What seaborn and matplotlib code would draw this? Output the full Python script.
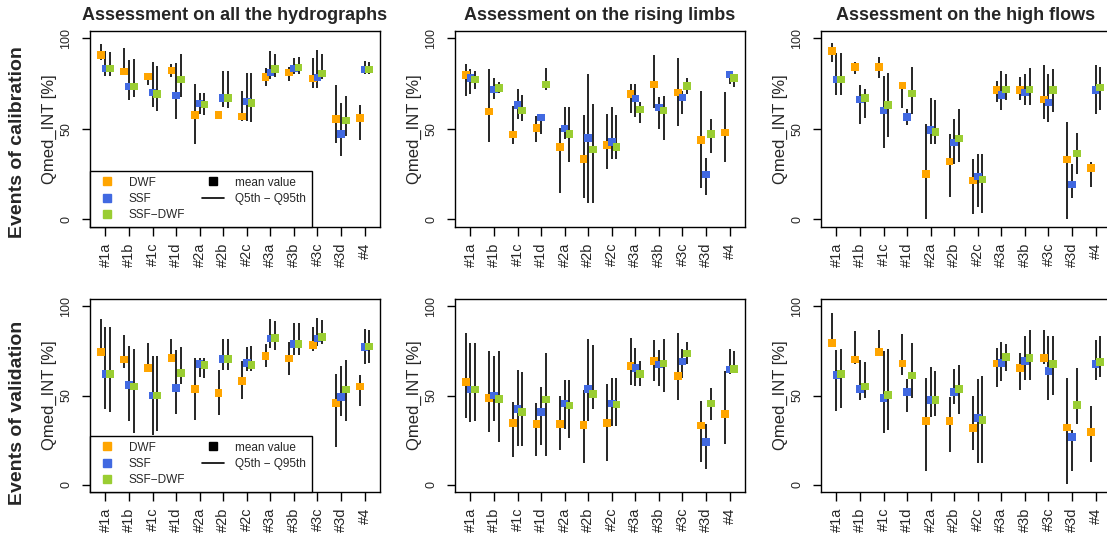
import matplotlib
matplotlib.use("Agg")
import matplotlib.pyplot as plt
from matplotlib.lines import Line2D
import seaborn as sns
import pandas as pd

# ------------------------------------------------------------------ #
# Data: (mean, Q5th, Q95th) for every event set  #
# ------------------------------------------------------------------ #
events = ["#1a", "#1b", "#1c", "#1d", "#2a", "#2b", "#2c", "#3a", "#3b", "#3c", "#3d", "#4"]
series = ["DWF", "SSF", "SSF\u2212DWF"]
colors = ["#FFA500", "#4169E1", "#9ACD32"]          # orange, royalblue, yellowgreen

titles = ["Assessment on all the hydrographs",
          "Assessment on the rising limbs",
          "Assessment on the high flows"]
row_labels = ["Events of calibration", "Events of validation"]

# calibration - all hydrographs
cal_all_dwf = [(90.6, 88.0, 96.7), (81.6, 80.0, 94.5), (78.8, 74.2, 80.0), (82.1, 78.6, 86.0),
               (57.5, 41.8, 74.6), (57.8, 56.5, 59.0), (56.9, 54.3, 71.0), (78.6, 73.7, 83.4),
               (81.0, 76.4, 84.3), (77.7, 72.7, 89.3), (55.6, 42.4, 74.2), (56.0, 43.8, 63.0)]
cal_all_ssf = [(83.4, 79.2, 93.0), (73.3, 65.7, 87.8), (70.0, 62.0, 86.9), (68.3, 55.6, 86.6),
               (63.9, 58.0, 70.0), (66.9, 62.0, 82.0), (65.2, 54.3, 81.0), (81.2, 77.3, 93.0),
               (83.4, 80.0, 89.3), (78.3, 72.7, 93.4), (47.0, 35.0, 64.5), (82.7, 80.0, 87.5)]
cal_all_sdwf = [(83.4, 79.2, 92.3), (73.3, 67.6, 88.8), (69.4, 59.9, 84.7), (77.2, 67.6, 91.2),
                (63.4, 57.6, 69.6), (66.9, 61.7, 82.0), (64.1, 54.0, 81.0), (83.0, 78.6, 91.5),
                (83.8, 80.0, 89.7), (80.5, 77.3, 91.5), (54.5, 46.0, 68.0), (82.7, 80.0, 87.1)]

# calibration - rising limbs
cal_rise_dwf = [(79.6, 68.0, 86.0), (59.5, 42.9, 82.9), (46.8, 41.8, 62.6), (50.6, 42.9, 57.0),
                (40.1, 14.7, 50.6), (33.5, 11.6, 57.6), (41.0, 27.6, 58.4), (69.4, 58.9, 74.6),
                (74.4, 61.7, 90.8), (70.0, 51.6, 89.0), (44.0, 17.1, 70.9), (47.9, 31.9, 70.3)]
cal_rise_ssf = [(77.9, 69.4, 83.2), (71.8, 66.7, 78.3), (63.0, 55.6, 72.2), (56.2, 47.0, 58.0),
                (50.3, 44.2, 62.0), (45.1, 9.2, 80.5), (42.9, 33.1, 62.0), (66.7, 56.5, 75.0),
                (61.7, 49.7, 67.6), (67.2, 58.0, 70.9), (24.7, 13.4, 33.7), (79.9, 74.6, 80.5)]
cal_rise_sdwf = [(77.3, 71.8, 82.0), (72.4, 70.0, 76.0), (60.2, 54.3, 68.5), (74.4, 71.6, 83.4),
                 (47.0, 31.9, 62.0), (38.5, 9.2, 63.9), (40.1, 33.1, 57.6), (60.6, 53.0, 65.0),
                 (60.2, 43.8, 68.1), (73.8, 69.4, 78.3), (47.0, 36.5, 55.6), (77.9, 73.3, 80.0)]

# calibration - high flows
cal_high_dwf = [(92.8, 87.1, 97.6), (84.3, 80.1, 87.1), (84.3, 77.9, 89.9), (74.0, 61.7, 76.0),
                (25.2, 0.0, 52.9), (31.9, 12.5, 47.3), (21.5, 2.8, 33.1), (71.6, 65.0, 76.4),
                (71.3, 66.1, 78.6), (66.1, 55.2, 85.3), (33.0, 0.0, 53.8), (28.5, 18.0, 31.9)]
cal_high_ssf = [(77.3, 68.7, 92.0), (66.1, 52.5, 74.0), (60.2, 39.6, 79.2), (56.7, 51.9, 60.8),
                (49.2, 41.4, 67.2), (42.4, 30.4, 55.2), (23.8, 7.0, 35.9), (68.7, 60.2, 82.0),
                (70.0, 63.2, 80.5), (64.6, 54.0, 80.1), (19.3, 12.0, 30.8), (71.6, 58.4, 85.3)]
cal_high_sdwf = [(77.3, 68.7, 92.0), (66.9, 56.2, 71.8), (63.0, 45.7, 81.0), (69.6, 58.4, 84.2),
                 (48.4, 41.4, 65.7), (44.6, 31.9, 60.8), (22.1, 3.3, 35.9), (71.8, 65.7, 80.5),
                 (71.8, 63.0, 83.8), (71.3, 59.5, 83.2), (36.5, 24.9, 47.9), (72.9, 60.2, 84.2)]

# validation - all hydrographs
val_all_dwf = [(74.4, 72.0, 92.9), (70.1, 65.4, 84.1), (65.6, 63.0, 79.4), (71.0, 68.6, 81.7),
               (53.6, 36.0, 71.0), (51.4, 39.3, 64.1), (58.3, 48.0, 69.2), (72.3, 66.0, 79.0),
               (70.7, 61.7, 79.8), (78.5, 75.1, 88.2), (45.8, 21.1, 62.1), (55.1, 43.9, 61.7)]
val_all_ssf = [(62.1, 42.4, 88.2), (55.9, 35.5, 77.6), (49.9, 28.0, 72.0), (54.2, 39.8, 75.7),
               (67.7, 60.4, 71.0), (70.5, 64.1, 81.7), (68.2, 63.6, 77.2), (81.9, 76.6, 92.9),
               (79.0, 72.5, 90.7), (81.9, 77.9, 93.5), (49.2, 38.7, 66.4), (77.2, 67.9, 87.3)]
val_all_sdwf = [(62.1, 40.6, 88.2), (55.0, 29.0, 76.0), (50.1, 29.9, 72.3), (62.6, 56.4, 77.2),
                (67.1, 59.8, 71.0), (70.5, 64.1, 81.7), (67.1, 63.9, 77.9), (82.2, 75.7, 92.0),
                (79.0, 72.5, 90.7), (82.8, 79.0, 92.5), (53.3, 35.5, 69.7), (77.6, 68.2, 86.9)]

# validation - rising limbs
val_rise_dwf = [(57.6, 37.4, 85.0), (48.6, 29.3, 74.8), (34.6, 15.5, 46.2), (34.0, 15.9, 45.8),
                (34.0, 19.6, 49.9), (33.5, 12.1, 52.9), (34.6, 13.1, 56.6), (66.7, 56.0, 82.2),
                (69.3, 57.9, 80.9), (61.1, 47.7, 85.0), (33.1, 12.5, 47.1), (39.6, 23.0, 63.9)]
val_rise_ssf = [(53.3, 35.0, 79.4), (49.9, 35.5, 72.0), (42.4, 21.9, 64.1), (40.7, 22.4, 54.8),
                (45.4, 31.2, 58.5), (53.8, 35.5, 81.7), (45.4, 32.7, 59.8), (65.6, 55.5, 76.6),
                (67.3, 55.1, 75.7), (69.0, 59.8, 76.0), (23.9, 8.8, 34.2), (64.5, 62.2, 76.0)]
val_rise_sdwf = [(53.3, 35.5, 79.4), (48.0, 23.7, 74.8), (40.7, 21.9, 63.0), (47.7, 15.9, 73.8),
                 (44.3, 26.2, 58.5), (50.8, 42.4, 78.5), (44.9, 33.1, 59.8), (62.1, 55.1, 69.5),
                 (67.9, 51.8, 81.7), (73.5, 67.9, 79.8), (45.4, 36.4, 54.2), (64.9, 62.6, 74.8)]

# validation - high flows
val_high_dwf = [(79.4, 77.6, 96.3), (70.1, 67.9, 86.4), (74.4, 72.0, 86.9), (67.9, 61.7, 84.7),
                (35.7, 7.5, 59.8), (35.7, 18.3, 49.2), (31.8, 19.6, 49.9), (67.9, 54.8, 76.6),
                (65.4, 53.3, 73.8), (71.0, 67.9, 86.9), (32.1, 0.6, 59.8), (29.5, 12.5, 43.9)]
val_high_ssf = [(61.5, 41.1, 75.3), (53.6, 47.7, 70.1), (48.6, 29.0, 74.8), (52.0, 40.6, 59.3),
                (47.5, 37.9, 66.0), (52.0, 45.4, 65.0), (37.2, 12.1, 59.3), (68.2, 57.9, 79.8),
                (69.5, 58.5, 83.6), (63.6, 47.7, 83.2), (26.7, 7.5, 30.8), (67.7, 58.5, 80.9)]
val_high_sdwf = [(62.1, 43.0, 76.0), (55.1, 48.6, 68.8), (50.3, 30.8, 76.0), (61.3, 48.6, 79.4),
                 (47.5, 38.7, 63.9), (53.6, 39.8, 67.3), (36.4, 12.1, 61.1), (71.6, 63.9, 79.0),
                 (71.0, 58.5, 86.5), (67.7, 50.5, 83.6), (44.7, 34.2, 65.4), (68.8, 60.4, 83.6)]

panels = [[(cal_all_dwf, cal_all_ssf, cal_all_sdwf),
           (cal_rise_dwf, cal_rise_ssf, cal_rise_sdwf),
           (cal_high_dwf, cal_high_ssf, cal_high_sdwf)],
          [(val_all_dwf, val_all_ssf, val_all_sdwf),
           (val_rise_dwf, val_rise_ssf, val_rise_sdwf),
           (val_high_dwf, val_high_ssf, val_high_sdwf)]]


def build_frame(triple):                                 # Long dataframe for one panel
    rows = []
    for s, values in zip(series, triple):
        for ev, (m, q5, q95) in zip(events, values):
            rows.append({"Event": ev, "Series": s, "Mean": m, "Q5": q5, "Q95": q95})
    df = pd.DataFrame(rows)
    offset = {s: o for s, o in zip(series, [-0.2, 0.0, 0.2])}   # side by side inside a category
    df["x"] = df["Event"].map({e: i + 1 for i, e in enumerate(events)}) + df["Series"].map(offset)
    return df


sns.set_style("ticks")
plt.rcParams["font.family"] = ["Liberation Sans", "DejaVu Sans"]

W, H = 1107, 538
fig = plt.figure(figsize=(W / 100, H / 100), dpi=100)

col_left = [90, 455, 821]
rows_px = [(31, 226.7), (299.3, 491.7)]
ax_w = 290

palette = dict(zip(series, colors))

for r, (top, bottom) in enumerate(rows_px):
    for c in range(3):
        ax = fig.add_axes([col_left[c] / W, 1 - bottom / H, ax_w / W, (bottom - top) / H])
        df = build_frame(panels[r][c])

        ax.vlines(df["x"], df["Q5"], df["Q95"], color="black", lw=1.2, zorder=2)
        sns.scatterplot(data=df, x="x", y="Mean", hue="Series", palette=palette,
                        marker="s", s=30, linewidth=0, legend=False, ax=ax, zorder=3)

        ax.set_xlim(0.344, 12.656)
        ax.set_ylim(-4, 104)
        ax.set_xticks(range(1, len(events) + 1))
        ax.set_xticklabels(events, rotation=90, fontsize=10.5)
        ax.set_yticks([0, 50, 100])
        ax.set_yticklabels(["0", "50", "100"], rotation=90, va="center", fontsize=9)
        ax.tick_params(axis="x", length=6.5, width=1, pad=5, color="black")
        ax.tick_params(axis="y", length=5.8, width=1, pad=7, color="black")
        ax.set_xlabel("")
        ax.set_ylabel("Qmed_INT [%]", fontsize=12)
        ax.yaxis.set_label_coords(-33 / ax_w, 0.5)
        for sp in ax.spines.values():
            sp.set_visible(True)
            sp.set_color("black")
            sp.set_linewidth(1.0)

        if r == 0:
            ax.set_title(titles[c], fontweight="bold", fontsize=13, pad=8)

        if c == 0:                                       # Legend at the bottom left of the first column
            handles = [Line2D([], [], marker="s", color=col, ls="none", markersize=5.3) for col in colors]
            handles += [Line2D([], [], marker="s", color="black", ls="none", markersize=5.3),
                        Line2D([], [], color="black", lw=1.2)]
            labels = series + ["mean value", "Q5th \u2212 Q95th"]
            leg = ax.legend(handles, labels, loc="lower left", ncol=2, fontsize=8.5,
                            frameon=True, fancybox=False, framealpha=1, borderaxespad=0,
                            borderpad=0.5, labelspacing=0.35, handlelength=1.9,
                            handletextpad=0.9, columnspacing=1.4)
            leg.get_frame().set_edgecolor("black")
            leg.get_frame().set_linewidth(1.0)

for lab, yc in zip(row_labels, [142, 413]):
    fig.text(18 / W, 1 - yc / H, lab, rotation=90, fontweight="bold", fontsize=14,
             ha="center", va="center")

fig.savefig("out.png", dpi=100)
